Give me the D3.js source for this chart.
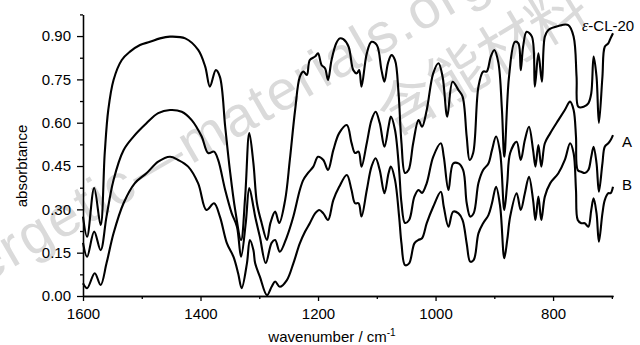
<!DOCTYPE html>
<html>
<head>
<meta charset="utf-8">
<script src="https://cdn.jsdelivr.net/npm/d3@7"></script>
<style>
  body { margin: 0; background: #fff; }
  #chart text { font-family: "Liberation Sans", Arial, sans-serif; }
  .axis path, .axis line { stroke: #000; stroke-width: 1.3px; }
  .axis text { font-size: 15px; fill: #000; }
  .line { fill: none; stroke: #000; stroke-width: 2.1px; }
</style>
</head>
<body>
<div id="chart"></div>
<script>
// spectra: [wavenumber, absorbance]
var epsCL20 = [[1600,0.275],[1593,0.205],[1581,0.374],[1570,0.246],[1563,0.495],[1557,0.644],[1548,0.748],[1534,0.817],[1520,0.846],[1503,0.869],[1486,0.880],[1469,0.892],[1452,0.898],[1426,0.892],[1404,0.852],[1392,0.794],[1384,0.725],[1374,0.782],[1367,0.759],[1358,0.586],[1350,0.436],[1341,0.298],[1331,0.194],[1324,0.344],[1317,0.564],[1310,0.460],[1304,0.322],[1296,0.253],[1287,0.194],[1281,0.253],[1273,0.292],[1266,0.253],[1256,0.332],[1248,0.471],[1239,0.644],[1231,0.759],[1225,0.777],[1219,0.765],[1214,0.817],[1205,0.829],[1200,0.840],[1194,0.800],[1188,0.788],[1183,0.748],[1177,0.817],[1169,0.875],[1163,0.892],[1157,0.889],[1148,0.863],[1140,0.782],[1134,0.771],[1130,0.782],[1126,0.725],[1117,0.840],[1109,0.880],[1100,0.869],[1092,0.782],[1087,0.742],[1081,0.806],[1075,0.834],[1069,0.817],[1063,0.703],[1058,0.530],[1052,0.426],[1046,0.436],[1038,0.530],[1029,0.609],[1023,0.586],[1015,0.644],[1004,0.771],[995,0.806],[988,0.759],[980,0.621],[971,0.742],[961,0.713],[954,0.690],[947,0.552],[942,0.471],[936,0.495],[927,0.725],[919,0.777],[913,0.777],[906,0.829],[900,0.852],[893,0.807],[887,0.644],[883,0.482],[875,0.759],[865,0.880],[859,0.875],[855,0.782],[851,0.863],[845,0.915],[836,0.898],[831,0.725],[825,0.840],[819,0.742],[814,0.898],[808,0.921],[791,0.935],[774,0.938],[765,0.898],[760,0.759],[757,0.655],[748,0.655],[740,0.667],[735,0.702],[731,0.829],[726,0.759],[722,0.599],[716,0.759],[712,0.863],[706,0.875],[702,0.893],[698,0.910]];

var sampleA = [[1600,0.184],[1593,0.136],[1581,0.223],[1570,0.159],[1560,0.275],[1548,0.402],[1531,0.505],[1514,0.552],[1492,0.598],[1472,0.633],[1452,0.644],[1432,0.638],[1415,0.609],[1398,0.552],[1387,0.495],[1377,0.500],[1370,0.471],[1358,0.367],[1347,0.287],[1338,0.240],[1331,0.136],[1323,0.253],[1317,0.374],[1310,0.309],[1307,0.275],[1299,0.205],[1289,0.114],[1279,0.184],[1273,0.194],[1265,0.153],[1253,0.205],[1242,0.275],[1231,0.367],[1225,0.402],[1217,0.426],[1208,0.448],[1200,0.482],[1191,0.471],[1183,0.436],[1174,0.505],[1164,0.564],[1151,0.592],[1143,0.530],[1137,0.495],[1131,0.500],[1126,0.448],[1117,0.530],[1109,0.609],[1102,0.638],[1095,0.599],[1087,0.517],[1080,0.586],[1076,0.621],[1069,0.575],[1062,0.436],[1058,0.322],[1052,0.253],[1045,0.263],[1036,0.344],[1029,0.367],[1023,0.357],[1015,0.391],[1004,0.482],[991,0.529],[986,0.482],[978,0.367],[970,0.459],[961,0.459],[953,0.436],[947,0.322],[941,0.275],[935,0.287],[927,0.391],[919,0.436],[910,0.459],[904,0.505],[897,0.552],[890,0.495],[883,0.298],[878,0.391],[873,0.495],[862,0.534],[855,0.471],[848,0.540],[841,0.586],[834,0.505],[830,0.448],[825,0.523],[820,0.448],[814,0.529],[805,0.563],[791,0.609],[780,0.644],[771,0.673],[765,0.644],[761,0.552],[758,0.436],[752,0.430],[746,0.426],[740,0.436],[735,0.482],[731,0.517],[726,0.459],[722,0.361],[716,0.459],[712,0.517],[706,0.529],[702,0.540],[698,0.557]];

var sampleB = [[1600,0.044],[1593,0.027],[1580,0.079],[1570,0.038],[1560,0.113],[1548,0.217],[1531,0.321],[1512,0.390],[1492,0.425],[1472,0.465],[1452,0.482],[1438,0.471],[1421,0.448],[1404,0.390],[1390,0.298],[1377,0.321],[1367,0.275],[1355,0.182],[1344,0.136],[1336,0.079],[1330,0.027],[1321,0.113],[1316,0.194],[1310,0.159],[1307,0.113],[1299,0.067],[1287,0.003],[1279,0.032],[1273,0.050],[1265,0.032],[1253,0.055],[1242,0.113],[1231,0.182],[1222,0.223],[1214,0.252],[1205,0.286],[1198,0.298],[1191,0.286],[1183,0.263],[1174,0.332],[1164,0.378],[1151,0.419],[1143,0.367],[1137,0.321],[1131,0.321],[1126,0.275],[1117,0.367],[1109,0.448],[1102,0.477],[1095,0.436],[1087,0.356],[1080,0.425],[1076,0.448],[1069,0.402],[1062,0.275],[1058,0.182],[1052,0.107],[1045,0.113],[1036,0.182],[1029,0.194],[1023,0.200],[1015,0.252],[1004,0.309],[991,0.361],[986,0.309],[978,0.240],[970,0.292],[961,0.286],[954,0.263],[947,0.182],[941,0.119],[935,0.125],[927,0.217],[919,0.252],[910,0.280],[904,0.321],[897,0.378],[890,0.309],[883,0.131],[878,0.194],[873,0.275],[862,0.356],[855,0.298],[848,0.356],[841,0.413],[834,0.332],[830,0.263],[825,0.344],[820,0.263],[814,0.344],[805,0.390],[791,0.425],[780,0.471],[771,0.529],[765,0.494],[761,0.367],[758,0.263],[752,0.252],[746,0.252],[740,0.240],[735,0.298],[731,0.338],[726,0.286],[722,0.188],[716,0.286],[712,0.332],[706,0.356],[702,0.356],[698,0.378]];

var xTicks = [1600, 1400, 1200, 1000, 800];
var xMinor = [1500, 1300, 1100, 900, 700];
var yTicks = [0, 0.15, 0.30, 0.45, 0.60, 0.75, 0.90];
var yMinor = [0.075, 0.225, 0.375, 0.525, 0.675, 0.825, 0.975];

var seriesNames = ["ε-CL-20", "A", "B"];

var width = 640, height = 345;

// scales (x axis runs high -> low wavenumber)
var x = d3.scaleLinear().domain([1600, 698]).range([83, 613]);
var y = d3.scaleLinear().domain([0, 0.975]).range([296, 14.4]);

var svg = d3.select("#chart")
  .append("svg")
    .attr("width", width)
    .attr("height", height);

// watermark
var wm = svg.append("g").attr("fill", "#dadada");
wm.append("text")
  .attr("transform", "translate(-74,318) rotate(-30)")
  .style("font-size", "56px")
  .style("letter-spacing", "2px")
  .text("energetic—materials.org.cn");
wm.append("text")
  .attr("transform", "translate(480,56) rotate(-31)")
  .attr("text-anchor", "middle")
  .attr("dominant-baseline", "central")
  .style("font-family", "'Noto Sans CJK SC', sans-serif")
  .style("font-size", "58px")
  .text("含能材料");

var valueline = d3.line()
  .curve(d3.curveCatmullRom.alpha(0.5))
  .x(function(d) { return x(d[0]); })
  .y(function(d) { return y(d[1]); });

[epsCL20, sampleA, sampleB].forEach(function(s) {
  svg.append("path")
    .datum(s)
    .attr("class", "line")
    .attr("d", valueline);
});

// minor ticks first, then major axes with labels
svg.append("g")
  .attr("class", "axis")
  .attr("transform", "translate(0,296)")
  .call(d3.axisBottom(x).tickValues(xMinor).tickSize(3).tickSizeOuter(0).tickFormat(""));
svg.append("g")
  .attr("class", "axis")
  .attr("transform", "translate(0,296)")
  .call(d3.axisBottom(x).tickValues(xTicks).tickSize(5).tickSizeOuter(0).tickPadding(7).tickFormat(d3.format("d")));

svg.append("g")
  .attr("class", "axis")
  .attr("transform", "translate(83,0)")
  .call(d3.axisLeft(y).tickValues(yMinor).tickSize(3).tickSizeOuter(0).tickFormat(""));
svg.append("g")
  .attr("class", "axis")
  .attr("transform", "translate(83,0)")
  .call(d3.axisLeft(y).tickValues(yTicks).tickSize(6).tickSizeOuter(0).tickPadding(6).tickFormat(d3.format(".2f")));

// axis titles
svg.append("text")
  .attr("transform", "translate(27,166) rotate(-90)")
  .attr("text-anchor", "middle")
  .style("font-size", "15px")
  .text("absorbtance");

var xt = svg.append("text")
  .attr("x", 332)
  .attr("y", 342)
  .attr("text-anchor", "middle")
  .style("font-size", "15px");
xt.append("tspan").text("wavenumber / cm");
xt.append("tspan").attr("dy", -6).style("font-size", "10px").text("-1");

// series labels
var lab = svg.append("text")
  .attr("x", 582)
  .attr("y", 31)
  .style("font-size", "15px");
lab.append("tspan")
  .style("font-family", "'Liberation Serif', serif")
  .style("font-style", "italic")
  .style("font-size", "16px")
  .text(seriesNames[0].charAt(0));
lab.append("tspan").text(seriesNames[0].slice(1));

svg.append("text").attr("x", 622).attr("y", 147).style("font-size", "15px").text(seriesNames[1]);
svg.append("text").attr("x", 622).attr("y", 190).style("font-size", "15px").text(seriesNames[2]);
</script>
</body>
</html>
